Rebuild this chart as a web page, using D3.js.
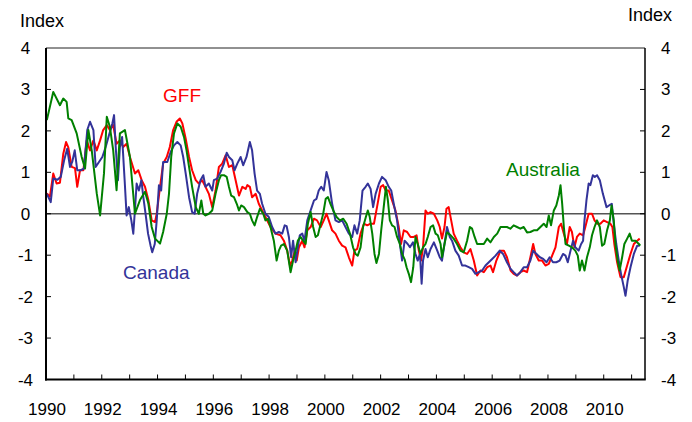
<!DOCTYPE html>
<html><head><meta charset="utf-8">
<script src="https://cdn.jsdelivr.net/npm/d3@7/dist/d3.min.js"></script>
<style>body{margin:0;background:#fff}svg{display:block}text{font-family:Arial,"Liberation Sans",sans-serif}</style>
</head><body>
<svg id="c" width="692" height="422"></svg>
<script>
const gffData = [
[1990.03,0.49],[1990.14,0.41],[1990.26,0.97],[1990.38,0.73],[1990.50,0.75],[1990.62,1.45],[1990.72,1.73],[1990.80,1.60],[1990.92,1.13],[1991.04,1.10],[1991.12,0.65],[1991.22,1.05],[1991.34,1.05],[1991.46,1.77],[1991.58,1.53],[1991.70,1.77],[1991.82,1.53],[1991.94,1.77],[1992.05,2.02],[1992.18,2.14],[1992.29,2.02],[1992.41,2.14],[1992.53,1.69],[1992.65,1.77],[1992.77,1.61],[1992.89,1.69],[1993.01,1.37],[1993.19,0.97],[1993.31,1.05],[1993.43,0.81],[1993.55,0.65],[1993.67,0.33],[1993.79,-0.16],[1993.91,-0.20],[1993.97,0.00],[1994.09,0.65],[1994.20,1.21],[1994.33,1.37],[1994.44,1.61],[1994.56,2.02],[1994.68,2.22],[1994.80,2.30],[1994.89,2.18],[1995.01,1.81],[1995.13,1.37],[1995.24,1.05],[1995.37,0.81],[1995.48,0.73],[1995.60,0.81],[1995.72,0.65],[1995.84,0.48],[1995.96,0.16],[1996.08,0.56],[1996.20,1.13],[1996.32,1.21],[1996.44,1.41],[1996.56,1.13],[1996.68,1.17],[1996.80,0.81],[1996.92,0.44],[1997.04,0.65],[1997.16,0.60],[1997.22,0.69],[1997.31,0.65],[1997.39,0.40],[1997.52,0.48],[1997.63,0.24],[1997.75,0.08],[1997.87,-0.08],[1998.05,-0.32],[1998.23,-0.48],[1998.41,-0.52],[1998.53,-0.65],[1998.65,-0.89],[1998.75,-1.25],[1998.83,-1.13],[1998.92,-0.89],[1998.99,-1.13],[1999.07,-0.81],[1999.19,-0.65],[1999.27,-0.81],[1999.37,-0.40],[1999.49,-0.32],[1999.61,-0.12],[1999.72,-0.16],[1999.85,-0.32],[1999.96,-0.16],[2000.06,0.00],[2000.14,-0.16],[2000.26,-0.40],[2000.38,-0.48],[2000.50,-0.65],[2000.62,-0.77],[2000.74,-0.81],[2000.86,-1.05],[2000.98,-1.25],[2001.06,-0.89],[2001.16,-0.85],[2001.28,-0.48],[2001.40,-0.24],[2001.52,-0.28],[2001.64,-0.24],[2001.76,-0.24],[2001.87,0.16],[2002.00,0.65],[2002.09,0.69],[2002.18,0.56],[2002.29,0.56],[2002.41,0.32],[2002.53,0.08],[2002.65,-0.32],[2002.73,-0.73],[2002.83,-0.40],[2002.95,-0.44],[2003.07,-0.56],[2003.19,-0.56],[2003.29,-0.52],[2003.37,-0.89],[2003.45,-1.13],[2003.52,-0.81],[2003.61,0.08],[2003.69,0.00],[2003.79,0.04],[2003.91,0.00],[2004.03,-0.16],[2004.12,-0.32],[2004.20,-0.60],[2004.29,-0.32],[2004.36,0.12],[2004.44,0.16],[2004.53,-0.16],[2004.62,-0.48],[2004.74,-0.65],[2004.86,-0.81],[2004.98,-0.93],[2005.10,-0.97],[2005.22,-0.85],[2005.34,-1.13],[2005.46,-1.49],[2005.58,-1.37],[2005.70,-1.41],[2005.82,-1.29],[2005.94,-1.25],[2006.03,-1.41],[2006.15,-1.13],[2006.30,-0.89],[2006.42,-0.89],[2006.53,-1.05],[2006.66,-1.37],[2006.77,-1.45],[2006.89,-1.49],[2007.01,-1.41],[2007.13,-1.37],[2007.25,-1.41],[2007.37,-1.05],[2007.47,-0.73],[2007.55,-0.97],[2007.67,-1.13],[2007.79,-1.13],[2007.91,-1.25],[2008.03,-1.21],[2008.15,-1.01],[2008.27,-0.81],[2008.39,-0.32],[2008.47,-0.24],[2008.57,-0.48],[2008.68,-0.73],[2008.78,-0.32],[2008.86,-0.44],[2008.95,-0.81],[2009.04,-0.56],[2009.14,-0.48],[2009.26,-0.52],[2009.34,-0.32],[2009.46,0.00],[2009.58,0.00],[2009.67,-0.16],[2009.76,-0.24],[2009.88,-0.24],[2010.00,-0.16],[2010.12,-0.20],[2010.24,-0.24],[2010.31,-0.32],[2010.38,-0.73],[2010.48,-1.17],[2010.60,-1.53],[2010.72,-1.53],[2010.84,-1.25],[2010.96,-0.97],[2011.08,-0.73],[2011.20,-0.65],[2011.29,-0.60]
];
const canadaData = [
[1990.03,0.48],[1990.17,0.28],[1990.26,0.85],[1990.41,0.82],[1990.53,0.89],[1990.65,1.29],[1990.76,1.57],[1990.86,1.13],[1990.94,1.25],[1991.03,1.53],[1991.12,1.05],[1991.24,1.05],[1991.36,1.09],[1991.48,2.02],[1991.58,2.22],[1991.70,2.02],[1991.78,1.13],[1991.90,1.25],[1992.02,1.37],[1992.14,1.61],[1992.26,1.90],[1992.38,2.18],[1992.44,2.38],[1992.50,1.61],[1992.58,0.81],[1992.65,1.61],[1992.73,1.85],[1992.82,0.81],[1992.89,-0.04],[1992.97,0.16],[1993.06,-0.16],[1993.13,-0.48],[1993.18,0.00],[1993.25,0.73],[1993.33,0.56],[1993.42,0.81],[1993.49,0.40],[1993.57,0.00],[1993.66,-0.48],[1993.75,-0.77],[1993.81,-0.93],[1993.90,-0.73],[1993.97,-0.16],[1994.05,0.69],[1994.13,0.56],[1994.20,1.25],[1994.35,1.25],[1994.47,1.49],[1994.59,1.65],[1994.71,1.73],[1994.83,1.65],[1994.92,1.37],[1995.01,0.97],[1995.13,0.40],[1995.24,0.04],[1995.33,0.00],[1995.42,0.48],[1995.54,0.81],[1995.64,0.93],[1995.72,0.65],[1995.84,0.73],[1995.96,0.56],[1996.02,0.81],[1996.14,0.85],[1996.26,1.01],[1996.38,1.21],[1996.48,1.47],[1996.56,1.37],[1996.68,1.29],[1996.76,1.05],[1996.86,1.21],[1996.98,1.37],[1997.07,1.17],[1997.19,1.37],[1997.31,1.73],[1997.39,1.53],[1997.48,0.97],[1997.57,0.56],[1997.67,0.48],[1997.75,0.24],[1997.87,0.00],[1997.99,-0.08],[1998.11,-0.32],[1998.23,-0.48],[1998.35,-0.44],[1998.47,-0.48],[1998.56,-0.28],[1998.63,-0.30],[1998.71,-0.56],[1998.79,-1.05],[1998.86,-0.65],[1998.95,-1.17],[1999.03,-0.81],[1999.10,-0.52],[1999.19,-0.48],[1999.27,-0.65],[1999.37,-0.16],[1999.49,0.08],[1999.61,0.32],[1999.70,0.36],[1999.78,0.56],[1999.87,0.65],[1999.96,0.56],[2000.06,1.01],[2000.14,0.81],[2000.26,0.24],[2000.38,-0.16],[2000.50,-0.20],[2000.62,-0.16],[2000.74,-0.32],[2000.86,-0.48],[2000.98,-0.56],[2001.06,-0.28],[2001.16,-0.48],[2001.25,-0.16],[2001.35,0.56],[2001.46,0.65],[2001.54,0.73],[2001.64,0.60],[2001.73,0.16],[2001.82,0.48],[2001.94,0.73],[2002.05,0.89],[2002.18,0.81],[2002.29,0.65],[2002.38,0.56],[2002.47,0.24],[2002.59,-0.16],[2002.69,-0.73],[2002.77,-1.13],[2002.86,-0.65],[2002.97,-0.73],[2003.05,-0.81],[2003.16,-0.69],[2003.25,-0.97],[2003.33,-1.13],[2003.41,-0.97],[2003.47,-1.69],[2003.52,-1.13],[2003.61,-0.85],[2003.69,-1.05],[2003.79,-0.85],[2003.91,-0.69],[2004.03,-0.89],[2004.12,-1.05],[2004.20,-1.13],[2004.29,-0.73],[2004.38,-0.32],[2004.48,-0.56],[2004.56,-0.65],[2004.68,-0.89],[2004.80,-1.01],[2004.92,-1.25],[2005.04,-1.25],[2005.16,-1.29],[2005.28,-1.33],[2005.40,-1.45],[2005.52,-1.41],[2005.64,-1.37],[2005.76,-1.25],[2005.88,-1.17],[2006.00,-1.09],[2006.12,-1.01],[2006.27,-0.89],[2006.39,-0.97],[2006.53,-1.17],[2006.66,-1.33],[2006.77,-1.41],[2006.89,-1.49],[2007.01,-1.41],[2007.13,-1.29],[2007.25,-1.29],[2007.37,-1.13],[2007.47,-0.89],[2007.59,-0.97],[2007.71,-1.05],[2007.83,-1.09],[2007.95,-1.17],[2008.06,-1.05],[2008.18,-1.17],[2008.30,-1.17],[2008.42,-1.13],[2008.54,-0.97],[2008.63,-1.01],[2008.71,-1.17],[2008.81,-0.89],[2008.90,-0.65],[2008.98,-0.81],[2009.10,-0.89],[2009.19,-0.73],[2009.26,-0.65],[2009.31,-0.16],[2009.38,0.32],[2009.46,0.73],[2009.52,0.69],[2009.61,0.93],[2009.68,0.89],[2009.76,0.93],[2009.86,0.81],[2009.97,0.48],[2010.10,0.16],[2010.19,0.20],[2010.29,0.24],[2010.36,-0.24],[2010.45,-0.73],[2010.54,-1.13],[2010.62,-1.45],[2010.72,-1.77],[2010.78,-1.98],[2010.86,-1.61],[2010.96,-1.29],[2011.08,-0.97],[2011.20,-0.77],[2011.29,-0.77]
];
const australiaData = [
[1990.03,2.26],[1990.26,2.94],[1990.50,2.62],[1990.62,2.78],[1990.74,2.70],[1990.80,2.30],[1990.92,2.26],[1991.10,1.94],[1991.28,1.37],[1991.40,1.09],[1991.52,2.02],[1991.64,1.53],[1991.82,0.49],[1991.94,-0.04],[1992.08,0.98],[1992.18,2.34],[1992.29,2.10],[1992.41,1.53],[1992.53,0.57],[1992.65,1.94],[1992.83,2.02],[1993.01,1.37],[1993.19,0.00],[1993.37,0.33],[1993.55,0.53],[1993.67,0.25],[1993.79,-0.32],[1993.91,-0.60],[1994.09,-0.72],[1994.20,-0.44],[1994.33,0.00],[1994.41,0.48],[1994.49,1.37],[1994.59,1.94],[1994.71,2.18],[1994.83,2.10],[1994.95,1.85],[1995.04,1.53],[1995.13,1.13],[1995.24,0.65],[1995.37,0.16],[1995.48,0.00],[1995.57,0.32],[1995.64,0.00],[1995.72,-0.04],[1995.84,0.00],[1995.96,0.08],[1996.08,0.48],[1996.20,0.81],[1996.28,0.93],[1996.38,0.93],[1996.48,0.89],[1996.56,0.65],[1996.64,0.44],[1996.74,0.40],[1996.84,0.24],[1996.92,0.08],[1997.00,0.20],[1997.10,0.16],[1997.22,0.04],[1997.31,0.00],[1997.39,-0.16],[1997.48,-0.28],[1997.57,-0.08],[1997.67,0.12],[1997.79,0.00],[1997.87,-0.16],[1997.96,-0.12],[1998.05,-0.32],[1998.17,-0.65],[1998.27,-1.13],[1998.35,-0.89],[1998.43,-0.77],[1998.53,-0.73],[1998.65,-0.89],[1998.77,-1.41],[1998.86,-1.13],[1998.95,-0.89],[1999.03,-0.65],[1999.13,-0.56],[1999.22,-0.65],[1999.31,-0.73],[1999.39,-0.24],[1999.49,0.04],[1999.58,-0.32],[1999.67,-0.56],[1999.75,-0.52],[1999.85,-0.24],[1999.94,0.00],[2000.03,0.36],[2000.11,0.40],[2000.20,0.24],[2000.30,0.08],[2000.42,-0.08],[2000.54,-0.16],[2000.66,-0.12],[2000.78,-0.24],[2000.90,-0.48],[2001.01,-0.81],[2001.10,-0.97],[2001.18,-1.01],[2001.28,-0.81],[2001.37,-0.32],[2001.47,-0.08],[2001.54,0.08],[2001.61,-0.08],[2001.70,-0.48],[2001.78,-0.97],[2001.85,-1.19],[2001.94,-0.97],[2002.02,-0.40],[2002.11,0.16],[2002.19,0.65],[2002.26,0.32],[2002.33,-0.16],[2002.41,-0.28],[2002.50,-0.32],[2002.59,-0.56],[2002.69,-0.73],[2002.77,-0.97],[2002.86,-1.10],[2002.93,-1.29],[2003.01,-1.45],[2003.09,-1.65],[2003.17,-1.29],[2003.25,-0.56],[2003.33,-0.73],[2003.43,-0.97],[2003.52,-0.81],[2003.61,-0.73],[2003.69,-0.56],[2003.79,-0.32],[2003.88,-0.28],[2003.97,-0.48],[2004.05,-0.52],[2004.15,-0.73],[2004.20,-1.05],[2004.29,-0.73],[2004.38,-0.45],[2004.48,-0.50],[2004.62,-0.60],[2004.74,-0.73],[2004.86,-0.89],[2004.98,-0.93],[2005.10,-0.65],[2005.20,-0.32],[2005.28,-0.36],[2005.37,-0.56],[2005.46,-0.73],[2005.58,-0.73],[2005.70,-0.73],[2005.82,-0.60],[2005.94,-0.69],[2006.06,-0.56],[2006.18,-0.48],[2006.30,-0.32],[2006.42,-0.32],[2006.53,-0.32],[2006.65,-0.36],[2006.77,-0.28],[2006.89,-0.32],[2007.01,-0.36],[2007.13,-0.32],[2007.25,-0.45],[2007.37,-0.44],[2007.49,-0.40],[2007.61,-0.40],[2007.73,-0.32],[2007.85,-0.24],[2007.95,-0.32],[2008.03,-0.04],[2008.11,-0.28],[2008.21,0.08],[2008.30,0.20],[2008.39,0.44],[2008.45,0.69],[2008.51,0.24],[2008.57,-0.32],[2008.63,-0.73],[2008.75,-0.77],[2008.86,-0.81],[2008.98,-0.89],[2009.07,-1.01],[2009.14,-1.37],[2009.22,-1.13],[2009.31,-1.37],[2009.40,-1.05],[2009.50,-0.81],[2009.58,-0.52],[2009.67,-0.32],[2009.76,-0.16],[2009.86,-0.32],[2009.94,-0.77],[2010.02,-0.73],[2010.12,-0.40],[2010.22,-0.16],[2010.28,0.20],[2010.36,-0.16],[2010.42,-0.73],[2010.50,-1.13],[2010.57,-1.37],[2010.66,-1.05],[2010.74,-0.73],[2010.84,-0.60],[2010.93,-0.48],[2011.01,-0.65],[2011.14,-0.65],[2011.26,-0.73],[2011.31,-0.77]
];
const yTicks = [-4,-3,-2,-1,0,1,2,3,4];
const xLabelYears = [1990,1992,1994,1996,1998,2000,2002,2004,2006,2008,2010];
const xTickYears = d3.range(1990, 2012);
const seriesNames = ["GFF","Canada","Australia"];
const seriesColors = ["#ff0000","#333399","#008000"];

const svg = d3.select("#c");
const L = 46, R = 645, T = 48, B = 379.5;
const x = d3.scaleLinear().domain([1990, 2011.48]).range([L, R]);
const y = d3.scaleLinear().domain([-4, 4]).range([B, T]);
const font = 17;

// zero line
svg.append("line").attr("x1", L).attr("x2", R).attr("y1", y(0)).attr("y2", y(0))
  .attr("stroke", "#555").attr("stroke-width", 1.3);

// series
const line = d3.line().x(d => x(d[0])).y(d => y(d[1]));
[[gffData,0],[canadaData,1],[australiaData,2]].forEach(([data,i]) => {
  svg.append("path").datum(data).attr("d", line).attr("fill", "none")
    .attr("stroke", seriesColors[i]).attr("stroke-width", 2).attr("stroke-linejoin", "round");
});

// frame
svg.append("line").attr("x1", L).attr("x2", R).attr("y1", T).attr("y2", T).attr("stroke", "#222").attr("stroke-width", 1);
svg.append("line").attr("x1", R).attr("x2", R).attr("y1", T).attr("y2", B).attr("stroke", "#000").attr("stroke-width", 1.5);
svg.append("line").attr("x1", L).attr("x2", L).attr("y1", T).attr("y2", B + 1).attr("stroke", "#000").attr("stroke-width", 2);
svg.append("line").attr("x1", L - 1).attr("x2", R + 0.75).attr("y1", B).attr("y2", B).attr("stroke", "#000").attr("stroke-width", 2);

// y ticks and labels
yTicks.forEach(v => {
  if (v > -4 && v < 4) {
    svg.append("line").attr("x1", L).attr("x2", L + 5).attr("y1", y(v)).attr("y2", y(v)).attr("stroke", "#000").attr("stroke-width", 1);
    svg.append("line").attr("x1", R - 5).attr("x2", R).attr("y1", y(v)).attr("y2", y(v)).attr("stroke", "#000").attr("stroke-width", 1);
  }
  svg.append("text").attr("x", 25.5).attr("y", y(v) + 6).attr("text-anchor", "middle")
    .attr("font-size", font).attr("fill", "#000").text(String(v).replace("-", "-"));
  svg.append("text").attr("x", 661).attr("y", y(v) + 6).attr("text-anchor", "start")
    .attr("font-size", font).attr("fill", "#000").text(String(v));
});

// x ticks and labels
xTickYears.forEach(yr => {
  if (yr > 1990) svg.append("line").attr("x1", x(yr)).attr("x2", x(yr)).attr("y1", B).attr("y2", B - 5).attr("stroke", "#000").attr("stroke-width", 1);
});
xLabelYears.forEach(yr => {
  svg.append("text").attr("x", x(yr) + 1).attr("y", 415).attr("text-anchor", "middle")
    .attr("font-size", font).attr("fill", "#000").text(yr);
});

// unit labels
svg.append("text").attr("x", 20).attr("y", 27).attr("font-size", 18).text("Index");
svg.append("text").attr("x", 628).attr("y", 21).attr("font-size", 18).text("Index");

// series labels
svg.append("text").attr("x", 163).attr("y", 102).attr("font-size", 19).attr("fill", seriesColors[0]).text(seriesNames[0]);
svg.append("text").attr("x", 123).attr("y", 279).attr("font-size", 19).attr("fill", seriesColors[1]).text(seriesNames[1]);
svg.append("text").attr("x", 506).attr("y", 176).attr("font-size", 19).attr("fill", seriesColors[2]).text(seriesNames[2]);
</script>
</body></html>
